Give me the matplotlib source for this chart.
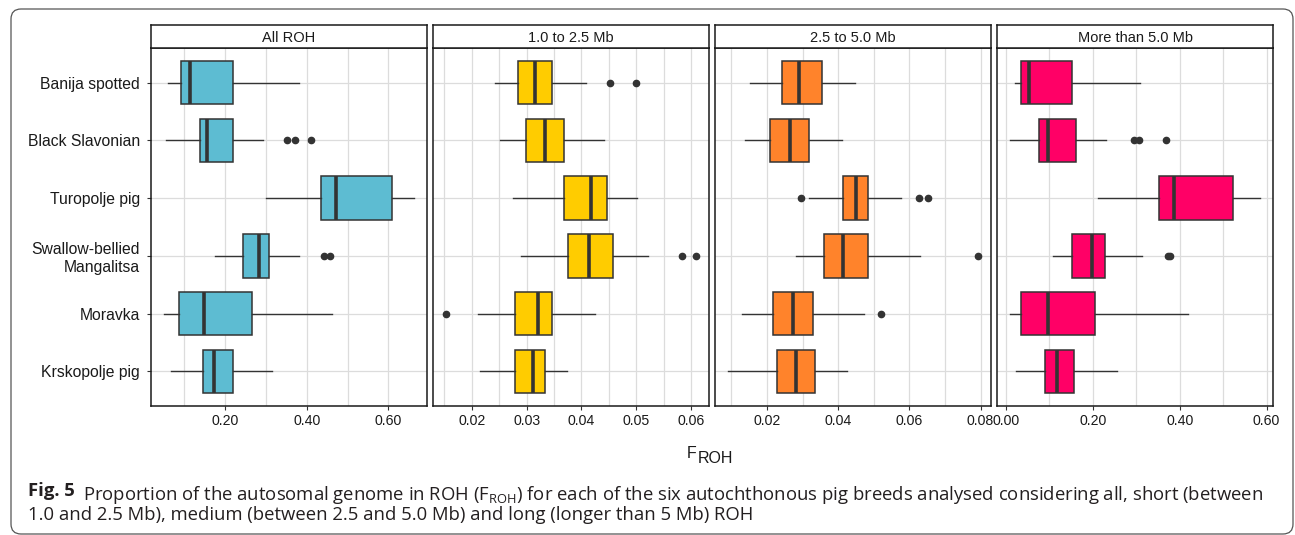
import matplotlib.pyplot as plt
from matplotlib.ticker import MultipleLocator, FormatStrFormatter
from matplotlib.patches import FancyBboxPatch
from matplotlib.transforms import IdentityTransform

plt.rcParams['font.family'] = ['Liberation Sans', 'DejaVu Sans']

breeds = ['Banija spotted', 'Black Slavonian', 'Turopolje pig',
          'Swallow-bellied\nMangalitsa', 'Moravka', 'Krskopolje pig']

# All ROH
all_lo = [0.060, 0.054, 0.301, 0.175, 0.049, 0.068]
all_q1 = [0.092, 0.139, 0.436, 0.243, 0.088, 0.145]
all_med = [0.114, 0.156, 0.472, 0.283, 0.147, 0.173]
all_q3 = [0.219, 0.219, 0.608, 0.308, 0.266, 0.219]
all_hi = [0.381, 0.293, 0.664, 0.380, 0.463, 0.316]
all_out = [[], [0.351, 0.370, 0.410], [], [0.443, 0.457], [], []]

# 1.0 to 2.5 Mb
short_lo = [0.0242, 0.0252, 0.0276, 0.0289, 0.0212, 0.0214]
short_q1 = [0.0284, 0.0298, 0.0368, 0.0375, 0.0279, 0.0279]
short_med = [0.0315, 0.0333, 0.0418, 0.0413, 0.0320, 0.0311]
short_q3 = [0.0346, 0.0368, 0.0446, 0.0457, 0.0347, 0.0333]
short_hi = [0.0409, 0.0442, 0.0502, 0.0521, 0.0425, 0.0373]
short_out = [[0.0452, 0.0500], [], [], [0.0584, 0.0610], [0.0152], []]

# 2.5 to 5.0 Mb
med_lo = [0.0152, 0.0137, 0.0317, 0.0281, 0.0130, 0.0089]
med_q1 = [0.0242, 0.0208, 0.0412, 0.0359, 0.0217, 0.0228]
med_med = [0.0291, 0.0265, 0.0450, 0.0412, 0.0274, 0.0281]
med_q3 = [0.0354, 0.0318, 0.0483, 0.0483, 0.0328, 0.0334]
med_hi = [0.0446, 0.0410, 0.0577, 0.0631, 0.0472, 0.0424]
med_out = [[], [], [0.0295, 0.0627, 0.0652], [0.0794], [0.0519], []]

# More than 5.0 Mb
long_lo = [0.020, 0.010, 0.212, 0.107, 0.008, 0.022]
long_q1 = [0.034, 0.077, 0.352, 0.153, 0.034, 0.090]
long_med = [0.052, 0.096, 0.386, 0.199, 0.096, 0.117]
long_q3 = [0.151, 0.160, 0.522, 0.228, 0.206, 0.157]
long_hi = [0.308, 0.230, 0.586, 0.312, 0.419, 0.255]
long_out = [[], [0.294, 0.307, 0.369], [], [0.373, 0.377], [], []]

panel_titles = ['All ROH', '1.0 to 2.5 Mb', '2.5 to 5.0 Mb', 'More than 5.0 Mb']
panel_colors = ['#5DBCD2', '#FFCC00', '#FF832B', '#FF0066']

panels = [
    (all_lo, all_q1, all_med, all_q3, all_hi, all_out, 0.2, 0.1),
    (short_lo, short_q1, short_med, short_q3, short_hi, short_out, 0.01, 0.005),
    (med_lo, med_q1, med_med, med_q3, med_hi, med_out, 0.02, 0.01),
    (long_lo, long_q1, long_med, long_q3, long_hi, long_out, 0.2, 0.1),
]

W, H = 1295, 535
fig = plt.figure(figsize=(W / 100, H / 100), dpi=100)

lefts = [151, 433, 715, 997]
pw = 276
top, bottom, strip_h = 48, 406, 23
edge = '#333333'
positions = list(range(1, len(breeds) + 1))

for k, (lo, q1, md, q3, hi, out, major, minor) in enumerate(panels):
    ax = fig.add_axes([lefts[k] / W, 1 - bottom / H, pw / W, (bottom - top) / H])
    stats = [dict(whislo=lo[i], q1=q1[i], med=md[i], q3=q3[i], whishi=hi[i],
                  fliers=out[i]) for i in range(len(breeds))]
    ax.bxp(stats, positions=positions, widths=0.75, orientation='horizontal',
           patch_artist=True, showcaps=False,
           boxprops=dict(facecolor=panel_colors[k], edgecolor=edge, linewidth=1.1),
           medianprops=dict(color=edge, linewidth=2.6, solid_capstyle='butt'),
           whiskerprops=dict(color=edge, linewidth=1.0),
           flierprops=dict(marker='o', markerfacecolor=edge, markeredgecolor=edge,
                           markersize=4.5))
    ax.margins(x=0.05)
    ax.set_ylim(len(breeds) + 0.6, 0.4)
    ax.xaxis.set_major_locator(MultipleLocator(major))
    ax.xaxis.set_minor_locator(MultipleLocator(minor))
    ax.xaxis.set_major_formatter(FormatStrFormatter('%.2f'))
    ax.set_axisbelow(True)
    ax.grid(True, which='both', axis='x', color='#DCDCDC', linewidth=0.9)
    ax.grid(True, which='major', axis='y', color='#DCDCDC', linewidth=0.9)
    ax.tick_params(axis='x', which='major', length=2.6, width=0.8, color=edge,
                   labelsize=10.2, labelcolor='#1a1a1a', pad=3)
    ax.tick_params(which='minor', length=0)
    ax.set_yticks(positions)
    if k == 0:
        ax.set_yticklabels(breeds, ha='right')
        ax.tick_params(axis='y', length=2.6, width=0.8, color=edge,
                       labelsize=11.3, labelcolor='#1a1a1a', pad=5.5)
    else:
        ax.tick_params(axis='y', length=0, labelleft=False)
    for s in ax.spines.values():
        s.set_color('#1a1a1a')
        s.set_linewidth(1.1)

    st = fig.add_axes([lefts[k] / W, 1 - top / H, pw / W, strip_h / H])
    st.set_xticks([])
    st.set_yticks([])
    for s in st.spines.values():
        s.set_color('#1a1a1a')
        s.set_linewidth(1.1)
    st.text(0.5, 0.45, panel_titles[k], ha='center', va='center',
            fontsize=10.5, color='#1a1a1a', transform=st.transAxes)

# x axis title F_ROH
ftxt = fig.text(697 / W, 1 - 454 / H, 'F', ha='right', va='center',
                fontsize=11.5, color='#1a1a1a')
plt.annotate('ROH', xy=(1, 0.5), xycoords=ftxt, xytext=(0.3, -3),
             textcoords='offset points', ha='left', va='center',
             fontsize=11.5, color='#1a1a1a', annotation_clip=False)

# caption
cap_font = ['Open Sans', 'DejaVu Sans']
cap_color = '#231F20'
cap_x = 28
fig_lbl = fig.text(cap_x / W, 1 - 496 / H, 'Fig. 5', ha='left', va='baseline',
                   fontsize=11, fontweight='bold', family=cap_font, color=cap_color)
line1 = plt.annotate('Proportion of the autosomal genome in ROH ($\\mathregular{F_{ROH}}$) '
                     'for each of the six autochthonous pig breeds analysed considering '
                     'all, short (between',
                     xy=(1, 0), xycoords=fig_lbl, xytext=(6, 0),
                     textcoords='offset points', ha='left', va='baseline',
                     fontsize=11, family=cap_font, color=cap_color,
                     annotation_clip=False)
line2 = fig.text(cap_x / W, 1 - 520 / H,
                 '1.0 and 2.5 Mb), medium (between 2.5 and 5.0 Mb) and long '
                 '(longer than 5 Mb) ROH',
                 ha='left', va='baseline', fontsize=11, family=cap_font,
                 color=cap_color)

# fit caption width to the reference line end
fig.canvas.draw()
r = fig.canvas.get_renderer()
right = line1.get_window_extent(r).x1
scale = (1262 - cap_x) / (right - cap_x)
for t in (fig_lbl, line1, line2):
    t.set_fontsize(11 * scale)

frame = FancyBboxPatch((11, 1), 1282, 525, boxstyle='round,pad=0,rounding_size=10',
                       transform=IdentityTransform(), facecolor='none',
                       edgecolor='#555555', linewidth=0.9)
fig.patches.append(frame)

fig.savefig('out.png', dpi=100)
